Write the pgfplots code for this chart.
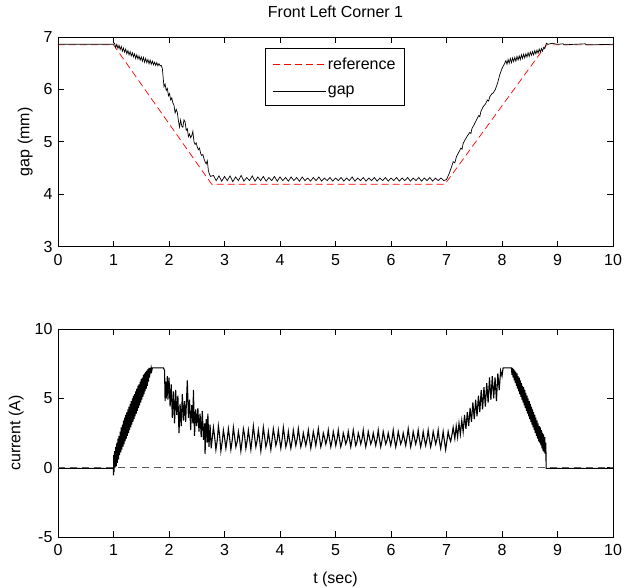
\documentclass[border=0pt]{standalone}
\usepackage{pgfplots}
\pgfplotsset{compat=1.18}
\usepackage{fontspec}
\setmainfont{Liberation Sans}
\newcommand{\ff}{\fontsize{16}{19}\selectfont}
\begin{document}
\ff
\begin{tikzpicture}
\useasboundingbox (0pt,0pt) rectangle (634pt,588pt);
\pgfplotsset{
  every axis/.append style={
    scale only axis, width=555pt,
    xmin=0, xmax=10, xtick={0,1,...,10},
    tick align=inside, major tick length=6pt,
    axis line style={line width=0.8pt},
    every tick/.style={black, line width=0.8pt},
    /pgf/number format/assume math mode=true,
    tick label style={font=\ff},
    xticklabel style={yshift=-2pt},
    label style={font=\ff},
    title style={font=\ff, yshift=8pt},
    clip=true,
  }
}
% ---------------- top axis ----------------
\begin{axis}[
  at={(58pt,341.3pt)}, anchor=south west, height=209.7pt,
  ymin=3, ymax=7, ytick={3,4,5,6,7},
  ylabel={gap (mm)},
  title={Front Left Corner 1},
  legend style={at={(rel axis cs:0.373,0.946)}, anchor=north west,
    font=\ff, inner xsep=7pt, inner ysep=7pt,
    row sep=10pt, cells={anchor=west}},
]
\addplot[red, line width=0.7pt, dash pattern=on 7pt off 4pt,
  legend image code/.code={\draw[red, line width=0.7pt, dash pattern=on 7pt off 4pt] (0pt,0pt) -- (53pt,0pt);}] coordinates {
(0,6.85) (1,6.85) (2.77,4.19) (6.97,4.19) (8.8,6.85) (10,6.85)};
\addlegendentry{reference}
\addplot[black, line width=0.7pt,
  legend image code/.code={\draw[black, line width=0.7pt] (0pt,0pt) -- (53pt,0pt);}] coordinates {
(0,6.86) (1.00,6.86)
(1.02,6.88) (1.04,6.80) (1.06,6.86) (1.08,6.78) (1.10,6.84) (1.12,6.76) (1.14,6.82) (1.16,6.73) (1.18,6.79) (1.20,6.71)
(1.22,6.77) (1.24,6.68) (1.26,6.74) (1.28,6.66) (1.30,6.72) (1.32,6.64) (1.34,6.70) (1.36,6.62) (1.38,6.68) (1.40,6.59)
(1.42,6.66) (1.44,6.58) (1.46,6.64) (1.48,6.56) (1.50,6.62) (1.52,6.54) (1.54,6.61) (1.56,6.52) (1.58,6.59) (1.60,6.51)
(1.62,6.57) (1.64,6.49) (1.66,6.56) (1.68,6.48) (1.70,6.54) (1.72,6.47) (1.74,6.52) (1.76,6.46) (1.78,6.51) (1.80,6.45)
(1.82,6.49) (1.84,6.45) (1.86,6.46) (1.88,6.40)
(1.91,6.05) (1.93,6.10) (1.95,5.98) (1.97,6.02) (1.99,5.88) (2.01,5.92) (2.03,5.80) (2.05,5.84) (2.07,5.74) (2.09,5.70)
(2.11,5.55) (2.13,5.62) (2.15,5.56) (2.17,5.40) (2.19,5.28) (2.21,5.42) (2.23,5.30) (2.25,5.28) (2.27,5.42) (2.29,5.38)
(2.31,5.22) (2.33,5.25) (2.35,5.10) (2.37,5.15) (2.39,5.08) (2.41,5.12) (2.43,5.20) (2.45,5.00) (2.47,4.95) (2.49,4.98)
(2.51,4.90) (2.53,4.85) (2.55,4.88) (2.57,4.78) (2.59,4.74) (2.61,4.76) (2.63,4.68) (2.65,4.62) (2.67,4.58) (2.69,4.64)
(2.71,4.45) (2.73,4.38) (2.75,4.34)
(2.80,4.36) (2.85,4.26) (2.90,4.35) (2.95,4.25) (3.00,4.34) (3.05,4.26) (3.10,4.35) (3.15,4.24) (3.20,4.33) (3.25,4.26)
(3.30,4.36) (3.35,4.25) (3.40,4.32) (3.45,4.26) (3.50,4.35) (3.55,4.25) (3.60,4.33) (3.65,4.26) (3.70,4.34) (3.75,4.25)
(3.80,4.32) (3.85,4.26) (3.90,4.34) (3.95,4.25) (4.00,4.33) (4.05,4.26) (4.10,4.32) (4.15,4.25) (4.20,4.33) (4.25,4.26)
(4.30,4.32) (4.35,4.25) (4.40,4.33) (4.45,4.26) (4.50,4.31) (4.55,4.25) (4.60,4.32) (4.65,4.26) (4.70,4.33) (4.75,4.25)
(4.80,4.31) (4.85,4.26) (4.90,4.32) (4.95,4.25) (5.00,4.31) (5.05,4.26) (5.10,4.32) (5.15,4.25) (5.20,4.31) (5.25,4.26)
(5.30,4.33) (5.35,4.25) (5.40,4.31) (5.45,4.26) (5.50,4.32) (5.55,4.25) (5.60,4.31) (5.65,4.26) (5.70,4.32) (5.75,4.25)
(5.80,4.31) (5.85,4.26) (5.90,4.32) (5.95,4.25) (6.00,4.31) (6.05,4.26) (6.10,4.32) (6.15,4.25) (6.20,4.31) (6.25,4.26)
(6.30,4.32) (6.35,4.25) (6.40,4.31) (6.45,4.26) (6.50,4.32) (6.55,4.25) (6.60,4.31) (6.65,4.26) (6.70,4.32) (6.75,4.25)
(6.80,4.31) (6.85,4.26) (6.90,4.31) (6.95,4.26) (7.00,4.28)
(7.05,4.40) (7.10,4.55) (7.12,4.62) (7.15,4.60) (7.18,4.72) (7.22,4.80) (7.26,4.88) (7.28,4.86) (7.30,4.97) (7.34,5.05)
(7.38,5.12) (7.42,5.18) (7.44,5.16) (7.46,5.26) (7.50,5.33) (7.54,5.42) (7.58,5.50) (7.60,5.48) (7.62,5.58) (7.66,5.67)
(7.70,5.72) (7.74,5.80) (7.76,5.78) (7.78,5.86) (7.82,5.92) (7.84,5.93) (7.88,6.00) (7.92,6.12) (7.96,6.28) (8.00,6.40)
(8.05,6.50) (8.07,6.55) (8.09,6.48) (8.11,6.57) (8.13,6.50) (8.15,6.59) (8.17,6.51) (8.19,6.60) (8.21,6.53) (8.23,6.61)
(8.25,6.54) (8.27,6.63) (8.29,6.56) (8.31,6.64) (8.33,6.57) (8.35,6.66) (8.37,6.59) (8.39,6.67) (8.41,6.60) (8.43,6.68)
(8.45,6.62) (8.47,6.70) (8.49,6.63) (8.51,6.71) (8.53,6.65) (8.55,6.72) (8.57,6.66) (8.59,6.74) (8.61,6.68) (8.63,6.75)
(8.65,6.69) (8.67,6.77) (8.69,6.71) (8.71,6.78) (8.73,6.73) (8.75,6.80) (8.77,6.78) (8.80,6.88) (8.83,6.86) (8.90,6.88)
(9.00,6.86) (9.10,6.87) (9.12,6.85) (9.30,6.86) (9.50,6.87) (9.52,6.85) (10,6.86)};
\addlegendentry{gap}
\end{axis}
% ---------------- bottom axis ----------------
\begin{axis}[
  at={(58pt,51pt)}, anchor=south west, height=208pt,
  ymin=-5, ymax=10, ytick={-5,0,5,10}, yticklabels={-5,0,5,10},
  ylabel={current (A)}, xlabel={t (sec)},
  xlabel style={yshift=-5pt},
]
\addplot[black, line width=1.1pt] coordinates {
(0,-0.05) (1.00,-0.05) (1.00,-0.55) (1.005,0.9) (1.01,-0.3)
(1.02,1.2) (1.03,0.0) (1.04,1.5) (1.05,0.1) (1.06,1.8) (1.07,0.35) (1.08,2.1) (1.09,0.6) (1.10,2.3) (1.11,0.9)
(1.12,2.6) (1.13,1.1) (1.14,2.9) (1.15,1.3) (1.16,3.1) (1.17,1.5) (1.18,3.4) (1.19,1.7) (1.20,3.6) (1.21,1.9)
(1.22,3.8) (1.23,2.1) (1.24,4.0) (1.25,2.3) (1.26,4.2) (1.27,2.5) (1.28,4.4) (1.29,2.7) (1.30,4.6) (1.31,2.9)
(1.32,4.8) (1.33,3.1) (1.34,5.0) (1.35,3.3) (1.36,5.2) (1.37,3.5) (1.38,5.3) (1.39,3.7) (1.40,5.5) (1.41,3.9)
(1.42,5.7) (1.43,4.1) (1.44,5.9) (1.45,4.3) (1.46,6.0) (1.47,4.5) (1.48,6.2) (1.49,4.7) (1.50,6.4) (1.51,4.9)
(1.52,6.5) (1.53,5.1) (1.54,6.7) (1.55,5.3) (1.56,6.8) (1.57,5.5) (1.58,6.9) (1.59,5.7) (1.60,7.0) (1.61,5.9)
(1.62,7.1) (1.63,6.2) (1.64,7.2) (1.65,6.5) (1.66,7.2) (1.67,6.8) (1.68,7.2) (1.69,7.0) (1.70,7.2) (1.90,7.2)
(1.92,7.0) (1.93,4.8) (1.94,6.2) (1.95,5.0) (1.97,6.6) (1.98,4.9) (2.00,6.5) (2.02,4.4) (2.04,6.0) (2.06,3.6)
(2.08,5.5) (2.10,3.2) (2.12,5.6) (2.14,3.8) (2.16,5.2) (2.18,2.5) (2.20,4.6) (2.22,3.0) (2.24,5.3) (2.26,3.4)
(2.28,4.8) (2.30,3.3) (2.33,6.3) (2.35,3.6) (2.37,4.9) (2.39,2.7) (2.41,4.5) (2.43,3.2) (2.44,5.6) (2.46,2.3)
(2.48,4.2) (2.50,3.0) (2.52,4.3) (2.54,2.6) (2.56,3.9) (2.58,2.2) (2.60,4.1) (2.62,2.0) (2.64,3.2) (2.65,1.0)
(2.67,3.5) (2.69,1.8) (2.70,3.9) (2.72,1.5) (2.74,3.1) (2.76,1.4)
(2.80,2.9) (2.82,2.3) (2.845,1.3) (2.87,2.0) (2.89,3.0) (2.91,2.4) (2.935,1.2) (2.96,1.9) (2.98,2.7) (3.00,2.2) (3.025,1.4) (3.05,2.1)
(3.07,2.8) (3.09,2.2) (3.115,1.3) (3.14,2.0) (3.16,2.9) (3.18,2.3) (3.205,1.5) (3.23,1.9) (3.25,2.6) (3.27,2.1) (3.295,1.2) (3.32,2.0)
(3.34,2.8) (3.36,2.4) (3.385,1.4) (3.41,2.0) (3.43,2.7) (3.45,2.1) (3.475,1.3) (3.50,2.2) (3.52,3.0) (3.54,2.3) (3.565,1.5) (3.59,2.0)
(3.61,2.7) (3.63,2.1) (3.655,1.2) (3.68,2.1) (3.70,2.9) (3.72,2.3) (3.745,1.5) (3.77,1.9) (3.79,2.6) (3.81,2.0) (3.835,1.3) (3.86,2.1)
(3.88,2.8) (3.90,2.3) (3.925,1.6) (3.95,2.0) (3.97,2.7) (3.99,2.1) (4.015,1.4) (4.04,2.1) (4.06,2.9) (4.08,2.3) (4.105,1.5) (4.13,1.9)
(4.15,2.6) (4.17,2.0) (4.195,1.4) (4.22,2.0) (4.24,2.7) (4.26,2.2) (4.285,1.6) (4.31,2.1) (4.33,2.8) (4.35,2.2) (4.375,1.5) (4.40,1.9)
(4.42,2.5) (4.44,2.1) (4.465,1.6) (4.49,2.1) (4.51,2.7) (4.53,2.1) (4.555,1.4) (4.58,2.0) (4.60,2.6) (4.62,2.2) (4.645,1.6) (4.67,2.2)
(4.69,2.8) (4.71,2.2) (4.735,1.5) (4.76,1.9) (4.78,2.5) (4.80,2.2) (4.825,1.7) (4.85,2.1) (4.87,2.7) (4.89,2.1) (4.915,1.5) (4.94,2.0)
(4.96,2.6) (4.98,2.2) (5.005,1.6) (5.03,2.1) (5.05,2.7) (5.07,2.1) (5.095,1.5) (5.12,1.9) (5.14,2.5) (5.16,2.2) (5.185,1.7) (5.21,2.0)
(5.23,2.6) (5.25,2.1) (5.275,1.5) (5.30,2.1) (5.32,2.7) (5.34,2.2) (5.365,1.6) (5.39,1.9) (5.41,2.5) (5.43,2.2) (5.455,1.7) (5.48,2.1)
(5.50,2.7) (5.52,2.1) (5.545,1.5) (5.57,2.0) (5.59,2.6) (5.61,2.2) (5.635,1.7) (5.66,2.0) (5.68,2.5) (5.70,2.1) (5.725,1.6) (5.75,2.1)
(5.77,2.7) (5.79,2.1) (5.815,1.5) (5.84,2.0) (5.86,2.6) (5.88,2.2) (5.905,1.7) (5.93,2.0) (5.95,2.5) (5.97,2.1) (5.995,1.6) (6.02,2.1)
(6.04,2.7) (6.06,2.1) (6.085,1.5) (6.11,2.0) (6.13,2.6) (6.15,2.2) (6.175,1.7) (6.20,2.0) (6.22,2.5) (6.24,2.1) (6.265,1.6) (6.29,2.2)
(6.31,2.8) (6.33,2.2) (6.355,1.5) (6.38,2.0) (6.40,2.6) (6.42,2.2) (6.445,1.7) (6.47,2.1) (6.49,2.7) (6.51,2.1) (6.535,1.5) (6.56,2.0)
(6.58,2.6) (6.60,2.1) (6.625,1.6) (6.65,2.1) (6.67,2.7) (6.69,2.1) (6.715,1.5) (6.74,2.0) (6.76,2.6) (6.78,2.2) (6.805,1.7) (6.83,2.1)
(6.85,2.7) (6.87,2.0) (6.895,1.4) (6.92,2.0) (6.94,2.6) (6.96,2.0) (6.985,1.3) (7.01,2.0) (7.03,2.6) (7.05,2.2) (7.075,1.9) (7.10,2.4) (7.12,2.9)
(7.15,2.1) (7.175,3.0) (7.20,2.2) (7.225,3.2) (7.25,2.4) (7.275,3.4) (7.30,2.6) (7.325,3.8) (7.35,2.8) (7.375,4.0)
(7.40,3.0) (7.425,4.3) (7.45,3.3) (7.475,4.7) (7.50,3.5) (7.525,4.9) (7.55,3.7) (7.575,5.2) (7.60,4.0) (7.625,5.6)
(7.65,4.2) (7.675,5.8) (7.70,4.4) (7.725,6.1) (7.75,4.7) (7.775,6.5) (7.80,4.9) (7.825,6.6) (7.85,5.0) (7.875,6.5)
(7.90,4.8) (7.925,6.8) (7.95,5.6) (7.975,7.0) (8.00,6.6) (8.02,7.2) (8.17,7.2)
(8.18,6.7) (8.19,7.2) (8.20,6.5) (8.21,7.1) (8.22,6.3) (8.23,7.0) (8.24,6.1) (8.25,6.9) (8.26,5.9) (8.27,6.8)
(8.28,5.7) (8.29,6.6) (8.30,5.5) (8.31,6.5) (8.32,5.3) (8.33,6.3) (8.34,5.1) (8.35,6.1) (8.36,4.9) (8.37,5.9)
(8.38,4.7) (8.39,5.8) (8.40,4.5) (8.41,5.6) (8.42,4.3) (8.43,5.4) (8.44,4.1) (8.45,5.2) (8.46,3.9) (8.47,5.0)
(8.48,3.7) (8.49,4.8) (8.50,3.5) (8.51,4.6) (8.52,3.3) (8.53,4.4) (8.54,3.1) (8.55,4.2) (8.56,2.9) (8.57,4.0)
(8.58,2.7) (8.59,3.8) (8.60,2.5) (8.61,3.6) (8.62,2.3) (8.63,3.4) (8.64,2.1) (8.65,3.2) (8.66,1.9) (8.67,3.0)
(8.68,1.8) (8.69,2.9) (8.70,1.6) (8.71,2.7) (8.72,1.4) (8.73,2.5) (8.74,1.2) (8.75,2.4) (8.76,1.1) (8.77,2.2)
(8.78,1.0) (8.79,1.8) (8.795,-0.05) (10,-0.05)};
\addplot[black!65, line width=0.8pt, dash pattern=on 7pt off 5pt] coordinates {(0,0) (10,0)};
\end{axis}
\end{tikzpicture}
\end{document}
